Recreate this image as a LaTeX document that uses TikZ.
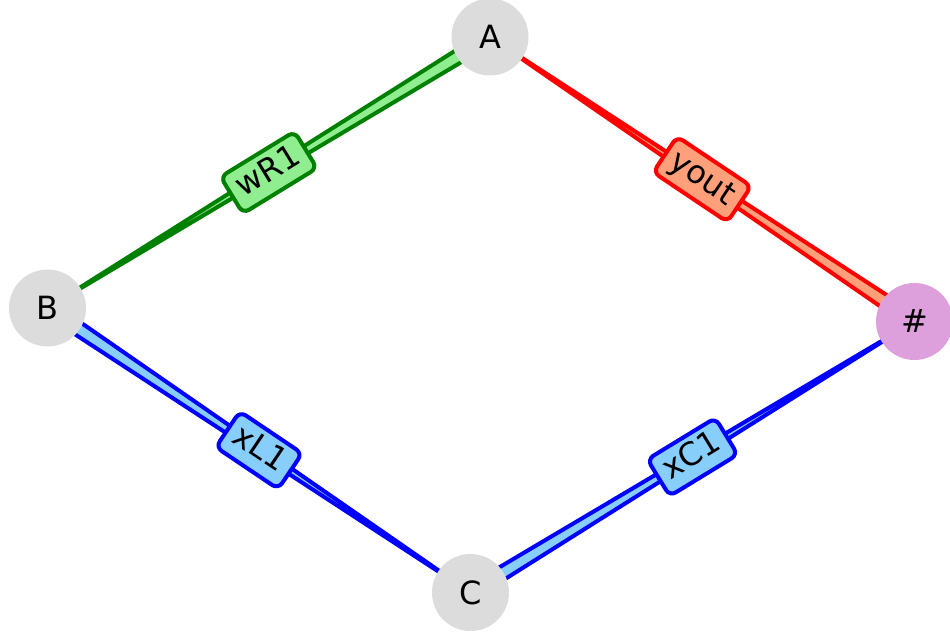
\documentclass[tikz,border=0pt]{standalone}
\usepackage{fontspec}
\setmainfont{DejaVu Sans}
\usetikzlibrary{calc}
\definecolor{nodegray}{HTML}{DCDCDC}
\definecolor{plumc}{HTML}{DDA0DD}
\definecolor{dgreen}{HTML}{008000}
\definecolor{lgreen}{HTML}{90EE90}
\definecolor{lsalmon}{HTML}{FFA07A}
\definecolor{lsky}{HTML}{87CEFA}
\pgfdeclarelayer{edges}
\pgfsetlayers{edges,main}
\begin{document}
\begin{tikzpicture}[x=1pt,y=1pt,
  vert/.style={circle, fill=nodegray, minimum size=77pt, inner sep=0pt, font=\fontsize{32}{36}\selectfont},
  elabel/.style={draw, line width=4pt, rounded corners=7pt, font=\fontsize{32}{36}\selectfont,
    inner xsep=9pt, inner ysep=6pt, text height=24pt, text depth=7pt, sloped, pos=0.5},
  wedge/.style={line width=4pt, line join=round}]
\useasboundingbox (0,0) rectangle (950,635);
\node[vert] (A) at (490,598) {A};
\node[vert] (B) at (47.5,327) {B};
\node[vert] (C) at (470.5,42.5) {C};
\node[vert, fill=plumc] (H) at (914.5,313.5) {\#};
\begin{pgfonlayer}{edges}
% A -> B, wide at A
\draw[wedge, draw=dgreen, fill=lgreen] ($(A.center)!7pt!90:(B.center)$) -- ($(A.center)!7pt!-90:(B.center)$) -- (B.center) -- cycle;
% A -> H, wide at H
\draw[wedge, draw=red, fill=lsalmon] ($(H.center)!7pt!90:(A.center)$) -- ($(H.center)!7pt!-90:(A.center)$) -- (A.center) -- cycle;
% B -> C, wide at B
\draw[wedge, draw=blue, fill=lsky] ($(B.center)!7pt!90:(C.center)$) -- ($(B.center)!7pt!-90:(C.center)$) -- (C.center) -- cycle;
% C -> H, wide at C
\draw[wedge, draw=blue, fill=lsky] ($(C.center)!7pt!90:(H.center)$) -- ($(C.center)!7pt!-90:(H.center)$) -- (H.center) -- cycle;
\path (B) -- node[elabel, draw=dgreen, fill=lgreen] {wR1} (A);
\path (A) -- node[elabel, draw=red, fill=lsalmon] {yout} (H);
\path (B) -- node[elabel, draw=blue, fill=lsky] {xL1} (C);
\path (C) -- node[elabel, draw=blue, fill=lsky] {xC1} (H);
\end{pgfonlayer}
\end{tikzpicture}
\end{document}
